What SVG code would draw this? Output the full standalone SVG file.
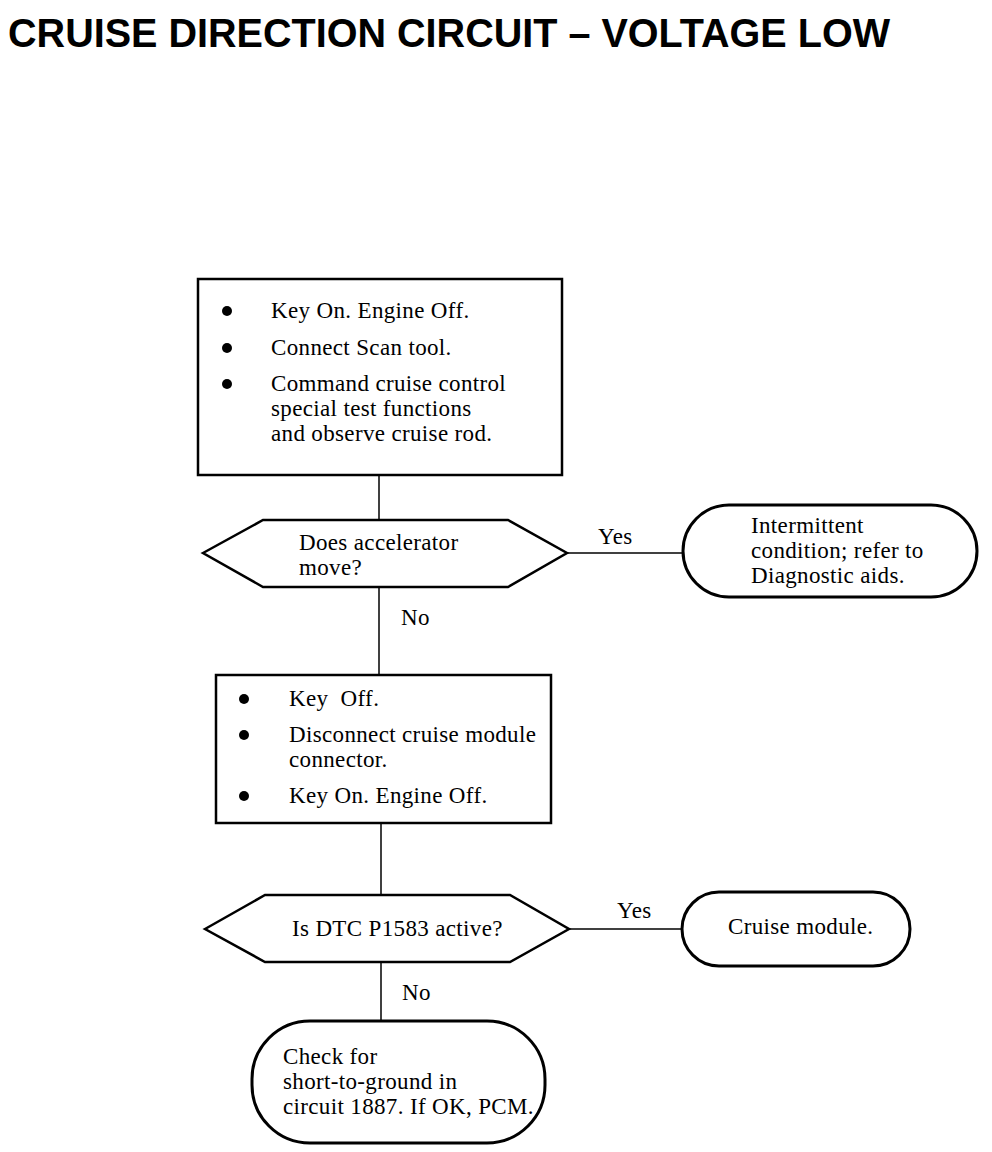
<svg xmlns="http://www.w3.org/2000/svg" width="992" height="1152" viewBox="0 0 992 1152">
<style>
.t{font-family:"Liberation Serif","Times New Roman",serif;font-size:23px;letter-spacing:0.35px;fill:#000}
.title{font-family:"Liberation Sans",Arial,sans-serif;font-weight:bold;font-size:41px;fill:#000}
.box{fill:#fff;stroke:#000;stroke-width:2.5}
.term{fill:#fff;stroke:#000;stroke-width:3}
.ln{stroke:#000;stroke-width:1.5;fill:none}
.b{fill:#000}
</style>
<rect width="992" height="1152" fill="#fff"/>
<text class="title" x="8" y="47" textLength="882" lengthAdjust="spacingAndGlyphs">CRUISE DIRECTION CIRCUIT – VOLTAGE LOW</text>
<g id="connectors">
<line class="ln" x1="379" y1="475" x2="379" y2="520"/>
<line class="ln" x1="567" y1="553" x2="683" y2="553"/>
<line class="ln" x1="379" y1="587" x2="379" y2="675"/>
<line class="ln" x1="381" y1="823" x2="381" y2="895"/>
<line class="ln" x1="569" y1="929" x2="682" y2="929"/>
<line class="ln" x1="381" y1="962" x2="381" y2="1021"/>
<text class="t" x="598" y="544">Yes</text>
<text class="t" x="401" y="625">No</text>
<text class="t" x="617" y="918">Yes</text>
<text class="t" x="402" y="1000">No</text>
</g>
<g id="box1">
<rect class="box" x="198" y="279" width="364" height="196"/>
<circle class="b" cx="227" cy="311" r="5"/>
<circle class="b" cx="227" cy="348" r="5"/>
<circle class="b" cx="227" cy="384" r="5"/>
<text class="t" x="271" y="318">Key On. Engine Off.</text>
<text class="t" x="271" y="355">Connect Scan tool.</text>
<text class="t" x="271" y="391">Command cruise control</text>
<text class="t" x="271" y="416">special test functions</text>
<text class="t" x="271" y="441">and observe cruise rod.</text>
</g>
<g id="decision1">
<polygon class="box" points="203,553 263,520 508,520 567,553 508,587 263,587"/>
<text class="t" x="299" y="550">Does accelerator</text>
<text class="t" x="299" y="575">move?</text>
</g>
<g id="term1">
<rect class="term" x="683" y="505" width="294" height="92" rx="46" ry="46"/>
<text class="t" x="751" y="533">Intermittent</text>
<text class="t" x="751" y="558">condition; refer to</text>
<text class="t" x="751" y="583">Diagnostic aids.</text>
</g>
<g id="box2">
<rect class="box" x="216" y="675" width="335" height="148"/>
<circle class="b" cx="244" cy="699" r="5"/>
<circle class="b" cx="244" cy="735" r="5"/>
<circle class="b" cx="244" cy="796" r="5"/>
<text class="t" x="289" y="706">Key&#160; Off.</text>
<text class="t" x="289" y="742">Disconnect cruise module</text>
<text class="t" x="289" y="767">connector.</text>
<text class="t" x="289" y="803">Key On. Engine Off.</text>
</g>
<g id="decision2">
<polygon class="box" points="205,929 265,895 510,895 569,929 510,962 265,962"/>
<text class="t" x="292" y="936">Is DTC P1583 active?</text>
</g>
<g id="term2">
<rect class="term" x="682" y="892" width="228" height="74" rx="37" ry="37"/>
<text class="t" x="728" y="934">Cruise module.</text>
</g>
<g id="term3">
<rect class="term" x="252" y="1021" width="293" height="122" rx="58" ry="58"/>
<text class="t" x="283" y="1064">Check for</text>
<text class="t" x="283" y="1089">short-to-ground in</text>
<text class="t" x="283" y="1114">circuit 1887. If OK, PCM.</text>
</g>
</svg>
